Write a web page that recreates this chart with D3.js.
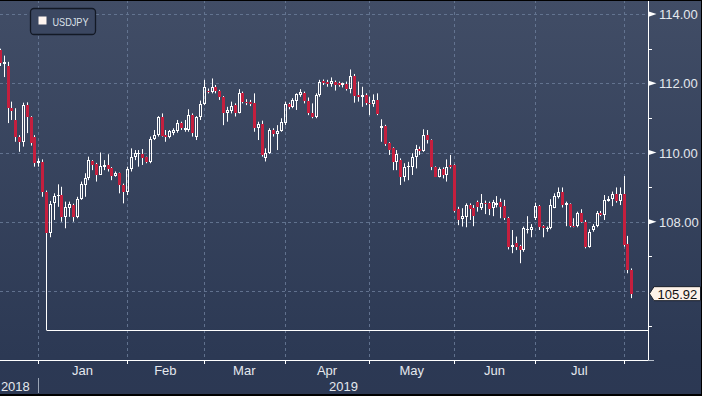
<!DOCTYPE html>
<html><head><meta charset="utf-8">
<script src="https://cdn.jsdelivr.net/npm/d3@7"></script>
<style>html,body{margin:0;padding:0;background:#000;overflow:hidden}svg{display:block}</style>
</head><body>
<svg id="c" width="702" height="396"></svg>
<script>
// ---------------- data ----------------
const seriesName = "USDJPY";
const startDate = "2018-12-18"; // first daily candle (weekdays only)
const open = [112.95,112.55,112.5,111.28,110.94,110.46,110.31,111.37,111.03,110.44,
109.69,109.72,108.87,107.66,108.53,108.74,108.76,108.14,108.41,108.48,
108.14,108.67,109.06,109.25,109.75,109.66,109.35,109.59,109.64,109.54,
109.32,109.4,109.06,108.87,109.52,109.88,109.96,109.96,109.86,109.73,
110.38,110.5,111.02,110.5,110.44,110.57,110.62,110.86,110.65,110.65,
111.08,110.44,111.02,111.4,111.79,111.76,111.9,111.78,111.59,111.13,
111.21,111.37,111.15,111.73,111.47,111.47,111.44,110.7,110.81,109.83,
109.98,110.65,110.53,110.63,110.84,111.39,111.32,111.5,111.66,111.71,
111.5,111.15,111.02,111.66,112.07,112.04,111.98,112.05,112.0,111.95,
111.98,111.84,112.22,111.66,111.59,111.66,111.42,111.39,111.52,110.72,
110.77,110.28,110.12,109.73,109.78,109.3,109.57,109.59,109.86,110.1,
110.05,110.5,110.36,109.59,109.3,109.51,109.35,109.64,109.64,108.36,
108.07,108.14,108.48,108.41,108.58,108.41,108.55,108.53,108.41,108.48,
108.58,108.45,108.1,107.28,107.37,107.3,107.18,107.76,107.76,108.1,
108.45,107.87,107.8,107.81,108.41,108.72,108.87,108.48,108.51,107.89,
107.87,108.26,108.0,107.28,107.76,107.87,108.26,108.18,108.61,108.65,
108.8,108.61,108.8,107.35,106.6];
const high = [113.0,112.8,112.62,111.47,111.28,110.5,111.44,111.45,111.05,110.5,
109.83,109.8,108.9,108.6,108.82,109.08,109.01,108.58,108.58,108.52,
108.72,109.16,109.4,109.88,109.78,109.7,110.0,109.78,109.95,109.58,
109.45,109.42,109.1,109.59,110.12,110.07,110.07,110.1,109.88,110.46,
110.65,111.05,111.13,110.65,110.65,110.7,110.94,110.89,110.94,111.25,
111.13,111.05,111.5,112.1,111.85,112.14,111.95,111.81,111.63,111.32,
111.47,111.42,111.83,111.76,111.54,111.52,111.71,110.89,110.92,110.12,
110.7,110.7,110.79,110.99,111.47,111.44,111.57,111.71,111.83,111.76,
111.59,111.42,111.71,112.1,112.11,112.1,112.17,112.08,112.05,112.02,
112.05,112.4,112.27,112.05,111.9,111.71,111.61,111.68,111.71,110.96,
110.8,110.3,110.15,110.07,109.83,109.69,109.73,109.98,110.22,110.17,
110.67,110.65,110.38,109.6,109.57,109.57,109.8,109.93,109.66,108.43,
108.39,108.53,108.53,108.48,108.61,108.8,108.61,108.58,108.63,108.74,
108.67,108.63,108.14,107.76,107.57,107.33,107.86,108.16,107.93,108.55,
108.48,107.9,107.86,108.65,108.82,108.99,108.99,108.58,108.53,108.1,
108.29,108.36,108.05,107.78,107.93,108.31,108.31,108.77,108.74,108.87,
108.99,108.99,109.32,107.59,106.65];
const low = [112.5,112.18,110.85,110.94,110.31,110.02,110.17,110.56,110.2,109.59,
109.59,108.72,104.87,107.55,108.05,108.43,108.0,107.81,108.14,108.0,
108.1,108.63,108.72,109.2,109.49,109.16,109.35,109.49,109.45,109.2,
109.3,108.82,108.53,108.77,109.45,109.78,109.59,109.64,109.69,109.69,
110.36,110.46,110.46,110.31,110.41,110.5,110.57,110.65,110.6,110.6,
110.46,110.36,110.94,111.37,111.71,111.71,111.71,111.52,110.79,110.89,
111.13,111.04,111.13,111.42,111.37,111.34,110.6,110.36,109.88,109.74,
109.96,110.46,110.07,110.6,110.79,111.25,111.28,111.23,111.61,111.42,
111.08,110.99,110.99,111.61,111.95,111.9,111.9,111.79,111.9,111.88,
111.79,111.71,111.44,111.47,111.32,111.37,111.08,111.32,111.08,110.31,
110.19,109.93,109.49,109.49,109.06,109.16,109.2,109.35,109.54,109.93,
110.02,110.26,109.49,109.3,109.28,109.25,109.16,109.54,108.27,107.9,
107.86,107.84,108.05,107.87,108.29,108.34,108.22,108.19,108.16,108.41,
108.1,108.05,107.2,107.09,107.18,106.8,107.13,107.66,107.55,108.05,
107.76,107.55,107.71,107.78,108.39,108.67,108.41,107.87,107.84,107.84,
107.84,107.97,107.23,107.25,107.71,107.84,108.16,108.05,108.58,108.45,
108.55,108.48,107.28,106.51,105.79];
const close = [112.6,112.62,111.28,111.21,110.46,110.31,111.37,111.03,110.27,109.69,
109.75,108.87,107.66,108.51,108.74,108.78,108.14,108.43,108.51,108.14,
108.67,109.08,109.25,109.78,109.64,109.35,109.61,109.64,109.52,109.32,
109.4,109.06,108.87,109.52,109.88,109.98,109.98,109.83,109.73,110.38,
110.5,111.04,110.48,110.44,110.62,110.65,110.86,110.7,110.7,111.08,
110.57,111.02,111.4,111.88,111.76,111.88,111.78,111.59,111.15,111.23,
111.34,111.15,111.73,111.47,111.42,111.4,110.7,110.81,109.93,109.98,
110.65,110.53,110.63,110.89,111.39,111.32,111.52,111.68,111.74,111.5,
111.13,111.04,111.66,112.05,112.02,111.98,112.07,111.95,111.95,112.0,
111.84,112.22,111.63,111.61,111.66,111.42,111.39,111.52,111.1,110.77,
110.26,110.07,109.73,109.95,109.3,109.59,109.61,109.86,110.1,110.05,
110.5,110.36,109.59,109.3,109.51,109.35,109.59,109.59,108.32,108.05,
108.17,108.48,108.36,108.16,108.43,108.55,108.51,108.36,108.58,108.55,
108.43,108.1,107.28,107.33,107.26,107.18,107.81,107.79,107.86,108.45,
107.86,107.81,107.83,108.48,108.74,108.85,108.48,108.53,107.87,107.86,
108.24,108.0,107.28,107.71,107.87,108.24,108.18,108.63,108.67,108.8,
108.61,108.8,107.33,106.6,105.92];
const yLabelTicks = [108, 110, 112, 114];
const yGridTicks = [106, 108, 110, 112, 114];
const yMinorTicks = [105, 107, 109, 111, 113];
const monthStarts = ["2019-01-01","2019-02-01","2019-03-01","2019-04-01","2019-05-01","2019-06-01","2019-07-01","2019-08-01"];
const monthLabels = ["Jan","Feb","Mar","Apr","May","Jun","Jul"];
const yearLabels = ["2018","2019"];

// ---------------- setup ----------------
const W = 702, H = 396;
const axisX = 648.5, axisY = 360.5;
const RED = "#c41f3e", GRID = "#6a7b98", TXT = "#e4e8ee";
const FONT = "'Liberation Sans', Arial, sans-serif";
const n = close.length;
const parse = d3.timeParse("%Y-%m-%d");
const dates = [];
for (let d = parse(startDate); dates.length < n; d = d3.timeDay.offset(d, 1)) {
  const wd = d.getDay(); if (wd !== 0 && wd !== 6) dates.push(d);
}
const x = d3.scaleLinear().domain([0, n - 1]).range([-0.2, 631.2]);
const y = d3.scaleLinear().domain([104, 114]).range([360.1, 14.1]);

const svg = d3.select("#c");
const defs = svg.append("defs");
const g0 = defs.append("linearGradient").attr("id","bg").attr("gradientUnits","userSpaceOnUse")
  .attr("x1",0).attr("y1",0).attr("x2",0).attr("y2",H);
g0.append("stop").attr("offset",0).attr("stop-color","#414d66");
g0.append("stop").attr("offset",0.9).attr("stop-color","#2c3954");
g0.append("stop").attr("offset",1).attr("stop-color","#2c3853");
svg.append("rect").attr("width",W).attr("height",H).attr("fill","url(#bg)");

// month tick indices
const monthIdx = monthStarts.map(s => {
  const d = parse(s); const k = d3.bisectLeft(dates, d);
  return (dates[k] && +dates[k] === +d) ? k : k - 1;
});
const mx = monthIdx.map(k => x(k));

// grid
const grid = svg.append("g").attr("stroke", GRID).attr("stroke-dasharray","3,3").attr("stroke-width",1).attr("opacity",0.85);
grid.selectAll("line.v").data(mx).join("line").attr("class","v")
  .attr("x1", d => Math.round(d) + 0.5).attr("x2", d => Math.round(d) + 0.5).attr("y1", 0).attr("y2", axisY);
grid.selectAll("line.h").data(yGridTicks).join("line").attr("class","h")
  .attr("x1", 0).attr("x2", axisX).attr("y1", d => Math.round(y(d)) + 0.5).attr("y2", d => Math.round(y(d)) + 0.5);

// low annotation line
const minLow = d3.min(low), minIdx = low.indexOf(minLow);
const yl = Math.round(y(minLow)) + 0.5;
svg.append("line").attr("x1", Math.round(x(minIdx)) + 0.5).attr("x2", axisX).attr("y1", yl).attr("y2", yl)
  .attr("stroke","#fff").attr("stroke-width",1);

// candles
const cg = svg.append("g");
for (let i = 0; i < n; i++) {
  const p = Math.round(x(i)), cx = p + 0.5;
  const up = close[i] >= open[i];
  const top = Math.round(y(Math.max(open[i], close[i])));
  const bot = Math.round(y(Math.min(open[i], close[i])));
  const yh = y(high[i]), ylo = y(low[i]);
  if (!up) {
    cg.append("line").attr("x1",cx).attr("x2",cx).attr("y1",yh).attr("y2",ylo).attr("stroke","#fff").attr("stroke-width",1);
    cg.append("rect").attr("x",p-1).attr("y",top).attr("width",3).attr("height",Math.max(1, bot-top)).attr("fill",RED);
  } else {
    const h = bot - top - 1;
    if (h < 1) {
      cg.append("line").attr("x1",cx).attr("x2",cx).attr("y1",yh).attr("y2",ylo).attr("stroke","#fff").attr("stroke-width",1);
      cg.append("rect").attr("x",p-1).attr("y",top).attr("width",3).attr("height",Math.max(1,bot-top)).attr("fill","#fff");
    } else {
      cg.append("line").attr("x1",cx).attr("x2",cx).attr("y1",yh).attr("y2",top+0.5).attr("stroke","#fff");
      cg.append("line").attr("x1",cx).attr("x2",cx).attr("y1",top+0.5+h).attr("y2",ylo).attr("stroke","#fff");
      cg.append("rect").attr("x",p-0.5).attr("y",top+0.5).attr("width",2).attr("height",h)
        .attr("fill","none").attr("stroke","#fff").attr("stroke-width",1);
    }
  }
}

// axes
svg.append("line").attr("x1",axisX).attr("x2",axisX).attr("y1",0).attr("y2",axisY).attr("stroke","#fff");
svg.append("line").attr("x1",0).attr("x2",axisX).attr("y1",axisY).attr("y2",axisY).attr("stroke","#fff");
svg.append("line").attr("x1",axisX).attr("x2",654).attr("y1",axisY).attr("y2",axisY).attr("stroke","#b8c0cc");
// y minor ticks
svg.selectAll("line.ym").data(yMinorTicks).join("line").attr("class","ym")
  .attr("x1",axisX).attr("x2",652).attr("y1",d=>Math.round(y(d))+0.5).attr("y2",d=>Math.round(y(d))+0.5).attr("stroke","#fff");
// y major markers + labels
svg.selectAll("path.ymk").data(yLabelTicks).join("path").attr("class","ymk")
  .attr("d", d => { const t = y(d); return `M648,${t-2.8}L656.5,${t}L648,${t+2.8}Z`; }).attr("fill","#fff");
svg.selectAll("text.yl").data(yLabelTicks).join("text").attr("class","yl")
  .attr("x",659).attr("y",d=>y(d)+5).attr("fill",TXT).attr("font-family",FONT).attr("font-size","13px")
  .text(d => d3.format(".2f")(d));
// x ticks
svg.selectAll("line.xt").data(mx).join("line").attr("class","xt")
  .attr("x1",d=>Math.round(d)+0.5).attr("x2",d=>Math.round(d)+0.5).attr("y1",axisY).attr("y2",364).attr("stroke","#fff");
// month labels
svg.selectAll("text.ml").data(monthLabels).join("text").attr("class","ml")
  .attr("x",(d,i)=>(mx[i]+mx[i+1])/2).attr("y",375).attr("text-anchor","middle")
  .attr("fill",TXT).attr("font-family",FONT).attr("font-size","13px").text(d=>d);
// year labels
svg.append("line").attr("x1",Math.round(mx[0])+0.5).attr("x2",Math.round(mx[0])+0.5).attr("y1",378).attr("y2",393).attr("stroke","#9aa4b4");
svg.append("text").attr("x",mx[0]-8.5).attr("y",390.5).attr("text-anchor","end")
  .attr("fill",TXT).attr("font-family",FONT).attr("font-size","13px").text(yearLabels[0]);
svg.append("text").attr("x",(mx[0]+axisX)/2).attr("y",390.5).attr("text-anchor","middle")
  .attr("fill",TXT).attr("font-family",FONT).attr("font-size","13px").text(yearLabels[1]);

// last price label
const last = close[n-1], ty = y(last);
svg.append("path").attr("d",`M649.5,${ty}L654,${ty-7}L700.5,${ty-7}L700.5,${ty+7}L654,${ty+7}Z`)
  .attr("fill","#fdf2e8").attr("stroke","#1a1f2a").attr("stroke-width",1);
svg.append("text").attr("x",657.5).attr("y",ty+5).attr("fill","#111").attr("font-family",FONT).attr("font-size","13px")
  .text(d3.format(".2f")(last));

// legend
svg.append("rect").attr("x",30.5).attr("y",8.5).attr("width",65).attr("height",26).attr("rx",3.5)
  .attr("fill","#3b4761").attr("stroke","#131925").attr("stroke-width",1.3);
svg.append("rect").attr("x",38.5).attr("y",16.5).attr("width",8).attr("height",8).attr("fill","#fff5f0");
svg.append("text").attr("x",52.5).attr("y",25.5).attr("fill","#dde2ea").attr("font-family",FONT)
  .attr("font-size","10.5px").attr("textLength",36).attr("lengthAdjust","spacingAndGlyphs").text(seriesName);

// frame edges
svg.append("rect").attr("x",0).attr("y",0).attr("width",W).attr("height",1).attr("fill","#000");
svg.append("rect").attr("x",0).attr("y",394).attr("width",W).attr("height",2).attr("fill","#000");
svg.append("rect").attr("x",701).attr("y",0).attr("width",1).attr("height",H).attr("fill","#000");
</script>
</body></html>
